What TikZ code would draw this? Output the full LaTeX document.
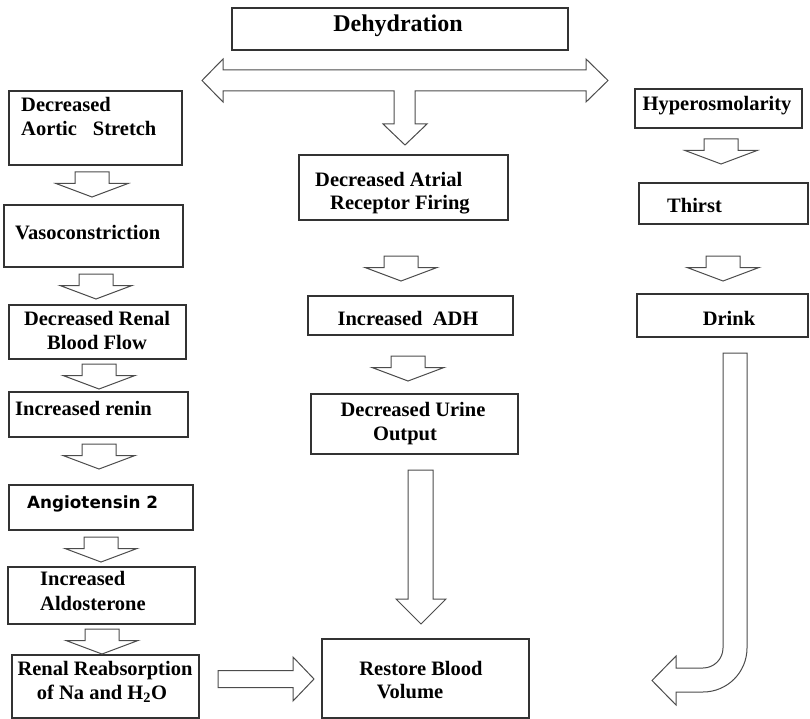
\documentclass[tikz,border=0pt]{standalone}
\usepackage{fontspec}
\setmainfont{Liberation Serif}
\newfontfamily\angfont{DejaVu Sans}
\begin{document}
\begin{tikzpicture}[x=1pt,y=-1pt,
  box/.style={draw=black!80, line width=1.1pt, inner sep=0pt},
  arr/.style={draw=black!70, line width=1pt, line join=miter, fill=white},
  txt/.style={font=\fontsize{20.5}{24}\selectfont\bfseries, inner sep=0pt, anchor=base},
  txtl/.style={txt, anchor=base west},
  dnarrow/.pic={\draw[arr] (-17,0) -- (17,0) -- (17,11.5) -- (36,11.5) -- (0,25) -- (-36,11.5) -- (-17,11.5) -- cycle;}
]
\useasboundingbox (0,0) rectangle (810,719);

% boxes
\node[box, minimum width=336pt, minimum height=42pt] (dehyd) at (400,29) {};
\node[box, minimum width=173pt, minimum height=74pt] (aortic) at (95.5,128) {};
\node[box, minimum width=179pt, minimum height=62pt] (vaso) at (93.5,236) {};
\node[box, minimum width=177pt, minimum height=54pt] (rflow) at (97.5,332) {};
\node[box, minimum width=179pt, minimum height=45pt] (renin) at (98.5,414.5) {};
\node[box, minimum width=184pt, minimum height=45pt] (angio) at (101,507.5) {};
\node[box, minimum width=187pt, minimum height=57pt] (aldo) at (101.5,595.5) {};
\node[box, minimum width=187pt, minimum height=63pt] (reabs) at (105.5,686.5) {};
\node[box, minimum width=209pt, minimum height=65pt] (atrial) at (403.5,187.5) {};
\node[box, minimum width=205pt, minimum height=39pt] (adh) at (410.5,315.5) {};
\node[box, minimum width=207pt, minimum height=60pt] (urine) at (414.5,424) {};
\node[box, minimum width=207pt, minimum height=79pt] (restore) at (425.5,678.5) {};
\node[box, minimum width=167pt, minimum height=39pt] (hyper) at (718.5,108.5) {};
\node[box, minimum width=169pt, minimum height=41pt] (thirst) at (723.5,203.5) {};
\node[box, minimum width=171pt, minimum height=43pt] (drink) at (722.5,315.5) {};

% texts
\node[txt, font=\fontsize{24}{28}\selectfont\bfseries] (dehyd-t) at (398,32) {Dehydration};
\node[txtl] (aortic-t1) at (21,112) {Decreased};
\node[txtl] (aortic-t2) at (21,136) {Aortic\hspace{16pt}Stretch};
\node[txtl] (vaso-t) at (15,240) {Vasoconstriction};
\node[txt] (rflow-t1) at (97,325) {Decreased Renal};
\node[txt] (rflow-t2) at (97,349) {Blood Flow};
\node[txtl] (renin-t) at (15,415) {Increased renin};
\node[txtl, font=\fontsize{16.8}{20}\selectfont\angfont\bfseries] (angio-t) at (27,508) {Angiotensin 2};
\node[txtl] (aldo-t1) at (40,585) {Increased};
\node[txtl] (aldo-t2) at (40,610) {Aldosterone};
\node[txt] (reabs-t1) at (105,675) {Renal Reabsorption};
\node[txt] (reabs-t2) at (102,699) {of Na and H\textsubscript{2}O};
\node[txtl] (atrial-t1) at (315,187) {Decreased Atrial};
\node[txtl] (atrial-t2) at (330,210) {Receptor Firing};
\node[txt] (adh-t) at (408,325) {Increased\ \ ADH};
\node[txt] (urine-t1) at (413,416) {Decreased Urine};
\node[txt] (urine-t2) at (405,440) {Output};
\node[txt] (restore-t1) at (421,675) {Restore Blood};
\node[txt] (restore-t2) at (410,698) {Volume};
\node[txt] (hyper-t) at (717,111) {Hyperosmolarity};
\node[txtl] (thirst-t) at (667,212) {Thirst};
\node[txt] (drink-t) at (729,325) {Drink};

% T-shaped split arrow under Dehydration
\draw[arr] (202,80.5) -- (223,59) -- (223,70) -- (586,70) -- (586,59) -- (608,80.5)
  -- (586,102) -- (586,91) -- (415,91) -- (415,124) -- (427,124) -- (405,145)
  -- (383,124) -- (394,124) -- (394,91) -- (223,91) -- (223,102) -- cycle;

% small down arrows
\pic at (92,172) {dnarrow};
\pic at (96,274) {dnarrow};
\pic at (99,364) {dnarrow};
\pic at (99,444) {dnarrow};
\pic at (101,537) {dnarrow};
\pic at (102,629) {dnarrow};
\pic at (401,256) {dnarrow};
\pic at (408,356) {dnarrow};
\pic at (721,139) {dnarrow};
\pic at (723,256) {dnarrow};

% long down arrow urine -> restore
\draw[arr] (408,470) -- (433,470) -- (433,599) -- (446,599) -- (421,624) -- (396,599) -- (408,599) -- cycle;

% right arrow reabs -> restore
\draw[arr] (218,670.5) -- (293,670.5) -- (293,657) -- (314,679) -- (293,701) -- (293,687.5) -- (218,687.5) -- cycle;

% curved arrow drink -> restore
\draw[arr] (723,353) -- (747,353) -- (747,648) .. controls (747,672.3) and (727.3,692) .. (703,692)
  -- (676,692) -- (676,705) -- (652,680.5) -- (676,656) -- (676,668) -- (703,668)
  .. controls (714,668) and (723,659) .. (723,648) -- cycle;
\end{tikzpicture}
\end{document}
